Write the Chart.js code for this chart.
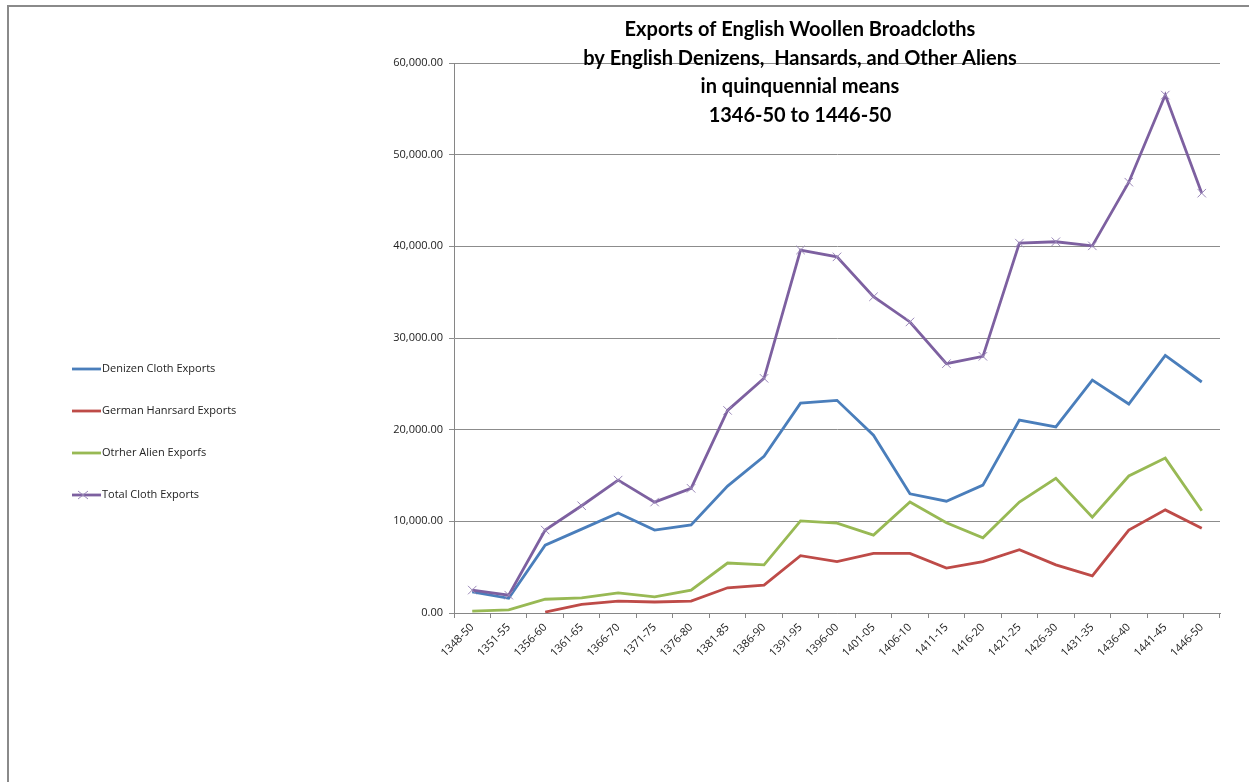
<!DOCTYPE html>
<html>
<head>
<meta charset="utf-8">
<script src="https://cdn.jsdelivr.net/npm/chart.js@4.4.1/dist/chart.umd.min.js"></script>
<style>
  html, body { margin: 0; padding: 0; background: #fff; }
  #wrap { position: relative; width: 1249px; height: 782px; overflow: hidden; }
  #frame { position: absolute; left: 7px; top: 5px; right: 0; bottom: 0;
           border-top: 2px solid #8a8a8a; border-left: 2px solid #8a8a8a; }
  canvas { position: absolute; left: 0; top: 0; }
  #legend { position: absolute; left: 72px; top: 360px; font-family: "Open Sans", Arial, sans-serif;
            font-size: 11px; color: #222; }
  #legend .item { height: 42px; display: flex; align-items: flex-start; }
  #legend svg { margin-top: 2px; margin-right: 1px; }
</style>
</head>
<body>
<div id="wrap">
  <div id="frame"></div>
  <canvas id="chart" width="1249" height="782"></canvas>
  <div id="legend"></div>
</div>
<script>
const periods = ['1348-50', '1351-55', '1356-60', '1361-65', '1366-70', '1371-75', '1376-80',
  '1381-85', '1386-90', '1391-95', '1396-00', '1401-05', '1406-10', '1411-15', '1416-20',
  '1421-25', '1426-30', '1431-35', '1436-40', '1441-45', '1446-50'];

const denizen = [2300, 1600, 7400, 9150, 10900, 9050, 9600, 13850, 17100, 22900, 23200,
  19400, 13000, 12200, 13950, 21050, 20300, 25400, 22800, 28100, 25200];
const hansard = [null, null, 100, 950, 1300, 1200, 1300, 2750, 3050, 6250, 5600,
  6500, 6500, 4900, 5600, 6900, 5250, 4050, 9050, 11250, 9250];
const otherAlien = [200, 350, 1500, 1650, 2200, 1750, 2500, 5450, 5250, 10050, 9800,
  8500, 12100, 9850, 8200, 12100, 14700, 10450, 14950, 16900, 11150];
const total = [2500, 1950, 9050, 11700, 14500, 12100, 13600, 22100, 25600, 39600, 38850,
  34500, 31750, 27200, 28000, 40350, 40500, 40050, 47000, 56500, 45800];

const titleLines = ['Exports of English Woollen Broadcloths',
  'by English Denizens,  Hansards, and Other Aliens',
  'in quinquennial means',
  '1346-50 to 1446-50'];

const seriesNames = ['Denizen Cloth Exports', 'German Hanrsard Exports', 'Otrher Alien Exporfs', 'Total Cloth Exports'];
const seriesColors = ['#4a7ebb', '#be4b48', '#98b954', '#7d60a0'];

// title sits over the plot, like the original
const titlePlugin = {
  id: 'overTitle',
  afterDraw(chart) {
    const ctx = chart.ctx;
    ctx.save();
    ctx.fillStyle = '#000';
    ctx.font = 'bold 20px Lato, "Open Sans", sans-serif';
    ctx.textAlign = 'center';
    ctx.textBaseline = 'middle';
    titleLines.forEach((t, i) => ctx.fillText(t, 800, 30 + i * 28.5));
    ctx.restore();
  }
};

const datasets = [denizen, hansard, otherAlien, total].map((d, i) => ({
  label: seriesNames[i],
  data: d,
  borderColor: seriesColors[i],
  backgroundColor: seriesColors[i],
  borderWidth: 2.8,
  tension: 0,
  pointRadius: i === 3 ? 6 : 0,
  pointStyle: 'crossRot',
  pointBorderColor: '#9a88b8',
  pointBorderWidth: 1,
  spanGaps: false
}));

new Chart(document.getElementById('chart'), {
  type: 'line',
  data: { labels: periods, datasets: datasets.reverse() },
  plugins: [titlePlugin],
  options: {
    responsive: false,
    animation: false,
    layout: { padding: { left: 380, right: 29, top: 63, bottom: 0 } },
    plugins: { legend: { display: false }, tooltip: { enabled: false }, title: { display: false } },
    scales: {
      x: {
        offset: true,
        afterFit: s => { s.height = 169; },
        grid: { offset: true, drawOnChartArea: false, color: '#868686', tickLength: 5 },
        border: { color: '#868686', width: 1 },
        ticks: {
          maxRotation: 45, minRotation: 45, autoSkip: false,
          font: { family: '"Open Sans", Arial, sans-serif', size: 11 }, color: '#222', padding: 3
        }
      },
      y: {
        min: 0, max: 60000,
        afterFit: s => { s.width = 74; },
        grid: { color: '#8c8c8c', tickLength: 5 },
        border: { color: '#868686', width: 1 },
        ticks: {
          stepSize: 10000,
          font: { family: '"Open Sans", Arial, sans-serif', size: 11 }, color: '#222', padding: 6,
          callback: v => v.toLocaleString('en-US', { minimumFractionDigits: 2, maximumFractionDigits: 2 })
        }
      }
    }
  }
});

// legend on the left
const legend = document.getElementById('legend');
seriesNames.forEach((name, i) => {
  const mark = i === 3
    ? '<line x1="6" y1="3" x2="16" y2="11" stroke="#9a88b8" stroke-width="1"/><line x1="6" y1="11" x2="16" y2="3" stroke="#9a88b8" stroke-width="1"/>'
    : '';
  legend.insertAdjacentHTML('beforeend',
    '<div class="item"><svg width="29" height="14"><line x1="0" y1="7" x2="29" y2="7" stroke="' +
    seriesColors[i] + '" stroke-width="2.8"/>' + mark + '</svg><span>' + name + '</span></div>');
});
</script>
</body>
</html>
